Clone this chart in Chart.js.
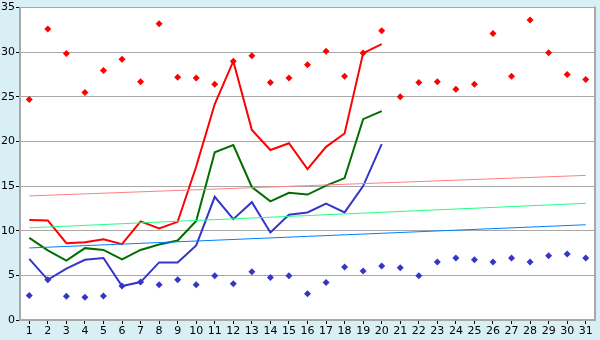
<!DOCTYPE html>
<html><head><meta charset="utf-8">
<script src="https://cdn.jsdelivr.net/npm/chart.js@4/dist/chart.umd.min.js"></script>
<style>html,body{margin:0;padding:0;background:#d9eff6;}#wrap{width:600px;height:340px;}</style>
</head><body><div id="wrap"><canvas id="c" width="600" height="340"></canvas></div>
<script>
const days = ["1","2","3","4","5","6","7","8","9","10","11","12","13","14","15","16","17","18","19","20","21","22","23","24","25","26","27","28","29","30","31"];
const yTicks = [0,5,10,15,20,25,30,35];
const maxTemp = [11.2,11.15,8.6,8.7,9.05,8.5,11.05,10.25,11.0,17.2,24.2,29.0,21.3,19.05,19.8,16.9,19.4,20.9,29.9,30.9];
const meanTemp = [9.2,7.8,6.65,8.05,7.85,6.8,7.85,8.45,8.9,11.1,18.8,19.6,14.9,13.3,14.25,14.05,15.05,15.9,22.5,23.4];
const minTemp = [6.85,4.5,5.75,6.75,6.95,3.8,4.25,6.45,6.45,8.35,13.8,11.3,13.2,9.8,11.8,12.05,13.05,12.05,15.0,19.7];
const recordHigh = [24.7,32.6,29.85,25.5,27.95,29.2,26.7,33.2,27.2,27.1,26.4,29.0,29.6,26.6,27.1,28.6,30.1,27.3,29.9,32.4,25.0,26.6,26.7,25.85,26.4,32.1,27.3,33.6,29.95,27.5,26.95];
const recordLow = [2.75,4.5,2.65,2.55,2.7,3.8,4.25,3.95,4.5,3.95,4.95,4.05,5.4,4.75,4.95,2.95,4.2,5.95,5.5,6.05,5.85,4.95,6.5,6.95,6.75,6.5,6.95,6.5,7.2,7.4,6.95];
const trendHighEnds = [13.9,16.2];
const trendMeanEnds = [10.33,13.07];
const trendLowEnds = [8.07,10.67];

const ends = a => [{x:days[0],y:a[0]},{x:days[days.length-1],y:a[1]}];
const font = {family:"DejaVu Sans", size:11};

const borderPlugin = {
  id:'borderPlugin',
  beforeDraw(chart){
    const {ctx, chartArea:a} = chart;
    ctx.save();
    ctx.fillStyle='#ffffff';
    ctx.fillRect(a.left,a.top,a.right-a.left,a.bottom-a.top);
    ctx.restore();
  },
  afterDatasetsDraw(chart){
    const {ctx, chartArea:a} = chart;
    ctx.save();
    ctx.strokeStyle='#a8a8a8';
    ctx.lineWidth=2;
    ctx.beginPath();
    ctx.moveTo(a.right,a.top-1);
    ctx.lineTo(a.right,a.bottom);
    ctx.stroke();
    ctx.restore();
  }
};

new Chart(document.getElementById('c'), {
  type:'line',
  data:{
    labels:days,
    datasets:[
      {data:ends(trendHighEnds), borderColor:'#ff8080', borderWidth:1, pointRadius:0, fill:false},
      {data:ends(trendMeanEnds), borderColor:'#20ff80', borderWidth:1, pointRadius:0, fill:false},
      {data:ends(trendLowEnds), borderColor:'#0080ff', borderWidth:1, pointRadius:0, fill:false},
      {data:maxTemp, borderColor:'#ff0000', borderWidth:2, pointRadius:0, fill:false},
      {data:meanTemp, borderColor:'#006e00', borderWidth:2, pointRadius:0, fill:false},
      {data:minTemp, borderColor:'#3535c8', borderWidth:2, pointRadius:0, fill:false},
      {data:recordHigh, showLine:false, pointStyle:'rectRot', pointRadius:3.5, borderWidth:0, backgroundColor:'#ff0000', borderColor:'#ff0000'},
      {data:recordLow, showLine:false, pointStyle:'rectRot', pointRadius:3.5, borderWidth:0, backgroundColor:'#3535c8', borderColor:'#3535c8'}
    ]
  },
  options:{
    responsive:false, animation:false,
    layout:{padding:{top:5,right:5,left:0,bottom:0}},
    plugins:{legend:{display:false}, tooltip:{enabled:false}},
    elements:{line:{tension:0}},
    scales:{
      x:{
        type:'category', offset:true,
        grid:{display:true, drawOnChartArea:false, drawTicks:true, tickLength:4, color:'#000', offset:false},
        border:{display:true, color:'#a8a8a8', width:2},
        ticks:{font:font, color:'#000', padding:1, maxRotation:0, autoSkip:false},
        afterFit(s){s.height=20;}
      },
      y:{
        min:0, max:35,
        afterBuildTicks(s){s.ticks = yTicks.map(v=>({value:v}));},
        grid:{color:'#a8a8a8', lineWidth:1, tickLength:4, tickColor:'#000', drawTicks:true},
        border:{display:true, color:'#a8a8a8', width:2},
        ticks:{font:font, color:'#000', padding:1},
        afterFit(s){s.width=20;}
      }
    }
  },
  plugins:[borderPlugin]
});
</script></body></html>
